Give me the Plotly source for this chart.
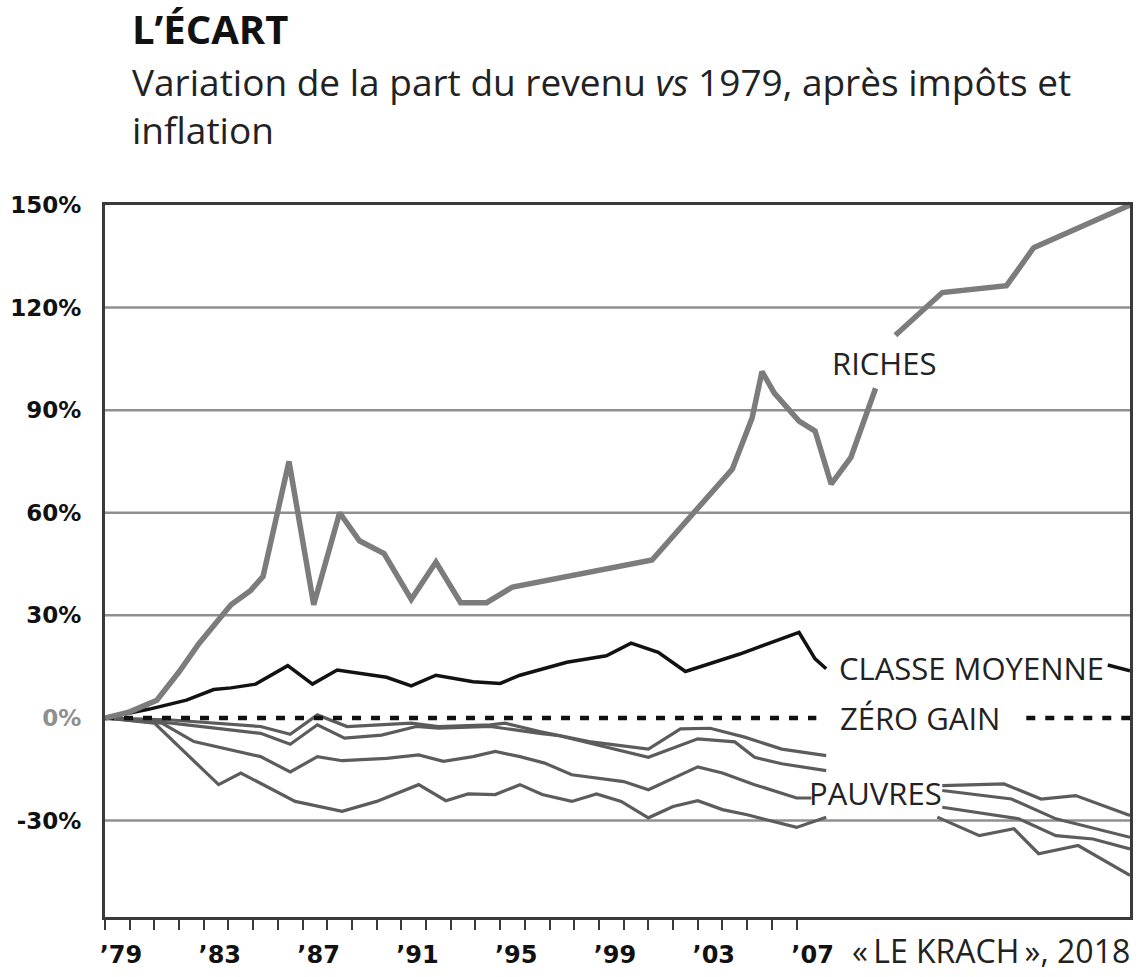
import plotly.graph_objects as go

# Riches
riches_x = [1979, 1980, 1981.1, 1982, 1982.8, 1984.1, 1984.9, 1985.4, 1986.45, 1987.45, 1988.5, 1989.3,
            1990.3, 1991.4, 1992.4, 1993.4, 1994.45, 1995.5, 2001.15, 2002.8, 2004.4, 2005.2, 2005.6,
            2006.1, 2007.1, 2007.75, 2008.4, 2009.2, 2010.2, None, 2011, 2012.9, 2015.5, 2016.6, 2020.5]
riches_y = [0, 1.8, 5.2, 13.5, 21.7, 33.1, 37.3, 41.4, 75, 33.1, 60, 51.8,
            48.1, 34.7, 45.6, 33.7, 33.7, 38.3, 46.2, 59.7, 72.8, 87.7, 101.3,
            95, 86.8, 83.9, 68.4, 76.2, 96.4, None, 111.9, 124.4, 126.4, 137.5, 150]

# Classe moyenne
moyenne_x = [1979, 1980.8, 1982.3, 1983.4, 1984.1, 1985.1, 1986.4, 1987.4, 1988.4, 1990.4, 1991.4, 1992.4,
             1993.9, 1995, 1995.8, 1997.7, 1999.3, 2000.3, 2001.4, 2002.5, 2004.7, 2007.1, 2007.75, 2008.2,
             None, 2019.6, 2020.5]
moyenne_y = [0, 2.6, 5.2, 8.3, 8.8, 9.9, 15.3, 9.9, 14, 11.9, 9.4, 12.5,
             10.6, 10.1, 12.5, 16.3, 18.2, 21.9, 19.2, 13.6, 18.7, 25, 17.3, 14.4,
             None, 15.5, 13.8]

# Pauvres (4 courbes)
pauvres1_x = [1979, 1981.7, 1985.3, 1986.5, 1987.6, 1988.8, 1991.4, 1992.5, 1994.6, 1995.2, 1996.6, 1998.6,
              2001, 2002.3, 2003.5, 2004.9, 2006.4, 2008.2, None, 2012.9, 2015.4, 2016.9, 2018.3, 2020.5]
pauvres1_y = [0, -0.6, -2.5, -4.8, 0.9, -2.5, -1.5, -2.5, -2, -1.5, -4, -6.9,
              -9.1, -3.2, -3, -5.6, -9.1, -11, None, -19.8, -19.3, -23.7, -22.7, -28.5]

pauvres2_x = [1979, 1981.7, 1985.3, 1986.5, 1987.6, 1988.7, 1990.2, 1991.6, 1992.5, 1994.6, 1996.6, 1997.4,
              2001, 2003, 2004.5, 2005.3, 2006.4, 2008.2, None, 2012.9, 2015.7, 2017.5, 2020.5]
pauvres2_y = [0, -1.5, -4.5, -7.7, -2, -5.9, -5, -2.5, -3, -2.5, -4.5, -5.2,
              -11.5, -6.1, -7, -11.5, -13.4, -15.4, None, -21.2, -23.7, -29.5, -34.9]

pauvres3_x = [1979, 1981.3, 1982.6, 1983.8, 1985.3, 1986.5, 1987.6, 1988.6, 1990.4, 1991.7, 1992.7, 1993.9,
              1994.8, 1995.8, 1996.8, 1997.9, 1999, 2000, 2001, 2003, 2004, 2005.3, 2007, 2007.6,
              None, 2012.9, 2016, 2017.5, 2019, 2020.5]
pauvres3_y = [0, -1.5, -6.9, -8.8, -11.3, -15.8, -11.3, -12.5, -11.8, -10.8, -12.7, -11.3,
              -9.8, -11.3, -13.2, -16.6, -17.6, -18.6, -21, -14.3, -16.1, -19.5, -23.4, -23.4,
              None, -26.1, -29.5, -34.4, -35.4, -38.3]

pauvres4_x = [1979, 1981, 1983.6, 1984.5, 1986.7, 1988.6, 1990, 1991.7, 1992.8, 1993.7, 1994.8, 1995.8,
              1996.7, 1997.9, 1998.9, 1999.9, 2001, 2002, 2003, 2004, 2005, 2007, 2008.2,
              None, 2012.7, 2014.4, 2015.8, 2016.8, 2018.4, 2020.5]
pauvres4_y = [0, -1.5, -19.5, -16.1, -24.4, -27.3, -24.4, -19.5, -24.2, -22.2, -22.4, -19.5,
              -22.4, -24.4, -22.2, -24.4, -29.2, -25.9, -24.2, -26.8, -28.3, -32, -29,
              None, -29, -34.4, -32.4, -39.7, -37.3, -46]

# Zéro gain
zero_x = [1979, 2007.8, None, 2016.3, 2020.5]
zero_y = [0, 0, None, 0, 0]

# axes
year_ticks = list(range(1979, 2008))
year_labels = ["’" + str(y)[2:] if (y - 1979) % 4 == 0 else "" for y in year_ticks]
pct_ticks = [-30, 0, 30, 60, 90, 120, 150]
pct_labels = ["-30%", '<span style="color:#8f8f8f">0%</span>', "30%", "60%", "90%", "120%", "150%"]
grid_vals = [-30, 30, 60, 90, 120]

fig = go.Figure()

for px_, py_ in [(pauvres1_x, pauvres1_y), (pauvres2_x, pauvres2_y),
                 (pauvres3_x, pauvres3_y), (pauvres4_x, pauvres4_y)]:
    fig.add_trace(go.Scatter(x=px_, y=py_, mode="lines", connectgaps=False,
                             line=dict(color="#5c5c5c", width=3.2), hoverinfo="skip"))

fig.add_trace(go.Scatter(x=zero_x, y=zero_y, mode="lines", connectgaps=False,
                         line=dict(color="#111111", width=4.5, dash="9px,10px"), hoverinfo="skip"))
fig.add_trace(go.Scatter(x=moyenne_x, y=moyenne_y, mode="lines", connectgaps=False,
                         line=dict(color="#121212", width=3.5), hoverinfo="skip"))
fig.add_trace(go.Scatter(x=riches_x, y=riches_y, mode="lines", connectgaps=False,
                         line=dict(color="#7c7c7c", width=5.5), hoverinfo="skip"))

# lignes de grille (sans la ligne du zéro, remplacée par les tirets)
for g in grid_vals:
    fig.add_shape(type="line", xref="paper", x0=0, x1=1, yref="y", y0=g, y1=g,
                  line=dict(color="#8f8f8f", width=2.5), layer="below")

label_font = dict(family="Open Sans", size=31, color="#222222")
fig.add_annotation(x=2010.55, y=103.7, text="RICHES", showarrow=False, font=label_font)
fig.add_annotation(x=2014.07, y=14.5, text="CLASSE MOYENNE", showarrow=False, font=label_font)
fig.add_annotation(x=2012.0, y=0, text="ZÉRO GAIN", showarrow=False, font=label_font)
fig.add_annotation(x=2010.2, y=-21.9, text="PAUVRES", showarrow=False, font=label_font)

# titres
fig.add_annotation(xref="paper", yref="paper", x=0.0243, y=1.2476, xanchor="left", yanchor="middle",
                   text="<b>L’ÉCART</b>", showarrow=False,
                   font=dict(family="Open Sans", size=40, color="#111111"))
fig.add_annotation(xref="paper", yref="paper", x=0.0243, y=1.212, xanchor="left", yanchor="top",
                   text="Variation de la part du revenu <i>vs</i> 1979, après impôts et<br>inflation",
                   showarrow=False, align="left",
                   font=dict(family="Open Sans", size=37, color="#222222"))
fig.add_annotation(xref="paper", yref="paper", x=1.002, y=-0.0473, xanchor="right", yanchor="middle",
                   text="«\u2009LE KRACH\u2009», 2018", showarrow=False,
                   font=dict(family="Open Sans", size=32, color="#222222"))

fig.update_layout(
    width=1141, height=977,
    margin=dict(l=105, r=8, t=205, b=53),
    paper_bgcolor="white", plot_bgcolor="white",
    showlegend=False,
    xaxis=dict(range=[1979, 2020.5], tickvals=year_ticks, ticktext=year_labels,
               showgrid=False, zeroline=False,
               showline=True, mirror=True, linecolor="#3a3a3a", linewidth=3,
               ticks="outside", ticklen=10, tickwidth=2, tickcolor="#3a3a3a",
               ticklabelshift=16, ticklabelstandoff=4,
               tickfont=dict(family="DejaVu Sans", size=24, color="#111111", weight="bold")),
    yaxis=dict(range=[-58.2, 150], tickvals=pct_ticks, ticktext=pct_labels,
               showgrid=False, zeroline=False,
               showline=True, mirror=True, linecolor="#3a3a3a", linewidth=3,
               ticks="", ticklabelstandoff=16,
               tickfont=dict(family="DejaVu Sans", size=23, color="#111111", weight="bold")),
)

# pas de marge autour de la figure dans la page
fig.write_html("out.html", config={"displayModeBar": False},
               post_script="document.body.style.margin='0';document.body.style.overflow='hidden';")
